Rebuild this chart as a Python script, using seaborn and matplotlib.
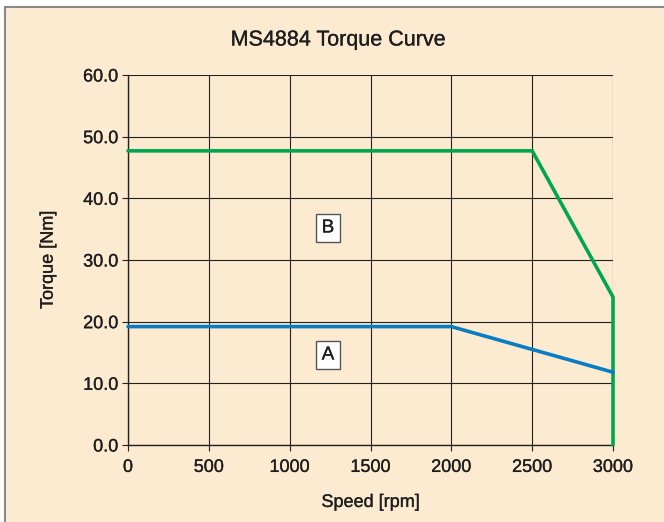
import pandas as pd
import matplotlib.pyplot as plt
import matplotlib.patheffects as pe
import seaborn as sns
from matplotlib.patches import Rectangle

# curve data
speed_b = [0, 2500, 3000, 3000]
torque_b = [47.7, 47.7, 24.0, 0.0]
speed_a = [0, 2000, 3000]
torque_a = [19.2, 19.2, 11.8]

x_ticks = [0, 500, 1000, 1500, 2000, 2500, 3000]
y_ticks = [0, 10, 20, 30, 40, 50, 60]

BEIGE = '#FDEBD1'
GREEN = '#00A651'
BLUE = '#0A7DC2'
TEXT = '#1e1e1e'

df = pd.concat([
    pd.DataFrame({'speed': speed_b, 'torque': torque_b, 'curve': 'B'}),
    pd.DataFrame({'speed': speed_a, 'torque': torque_a, 'curve': 'A'}),
], ignore_index=True)

sns.set_theme(style="white")
plt.rcParams['font.family'] = ['Liberation Sans', 'DejaVu Sans']

# slight stroke to mimic the medium weight of the original type
heavy = [pe.withStroke(linewidth=0.2, foreground=TEXT)]

fig = plt.figure(figsize=(6.64, 5.22), dpi=100, facecolor='white')
# beige panel with grey border
fig.patches.append(Rectangle((5 / 664, -0.01), 1.0, 1 - 7 / 522 + 0.01,
                             transform=fig.transFigure, facecolor=BEIGE,
                             edgecolor='#8a8a8a', linewidth=1.5, zorder=-5))

ax = fig.add_axes([128 / 664, 1 - 445 / 522, 485 / 664, 370 / 522])
ax.set_zorder(2)
ax.set_facecolor(BEIGE)

sns.lineplot(data=df, x='speed', y='torque', hue='curve', units='curve',
             estimator=None, sort=False, palette={'B': GREEN, 'A': BLUE},
             linewidth=2.6, legend=False, ax=ax, zorder=3)
for line in ax.lines:
    line.set_clip_on(False)
    line.set_solid_joinstyle('miter')

ax.set_xlim(0, 3000)
ax.set_ylim(0, 60)
ax.set_xticks(x_ticks)
ax.set_yticks(y_ticks)
ax.set_xticklabels([str(t) for t in x_ticks], fontsize=13, path_effects=heavy)
ax.set_yticklabels([f"{t:.1f}" for t in y_ticks], fontsize=13, path_effects=heavy)
ax.grid(True, color='#222222', linewidth=0.8)
ax.tick_params(axis='both', direction='out', length=4, width=0.8, color='#222222',
               bottom=True, left=True, labelcolor=TEXT)
ax.tick_params(axis='x', pad=6)
ax.tick_params(axis='y', pad=3)
for side in ['top', 'right']:
    ax.spines[side].set_visible(False)
for side in ['left', 'bottom']:
    ax.spines[side].set_color('#222222')
    ax.spines[side].set_linewidth(1.0)

ax.set_xlabel('Speed [rpm]', fontsize=13, color=TEXT, labelpad=13, path_effects=heavy)
ax.set_ylabel('Torque [Nm]', fontsize=13, color=TEXT, labelpad=19, path_effects=heavy)

fig.text(338 / 664, 1 - 40 / 522, 'MS4884 Torque Curve', ha='center', va='center',
         fontsize=15.5, color=TEXT, path_effects=heavy)

box = dict(boxstyle='square,pad=0.3', facecolor='white', edgecolor='#555555', linewidth=1)
ax.text(1237, 35.2, 'B', ha='center', va='center', fontsize=13.5, color=TEXT, bbox=box,
        zorder=4, path_effects=heavy)
ax.text(1237, 14.6, 'A', ha='center', va='center', fontsize=13.5, color=TEXT, bbox=box,
        zorder=4, path_effects=heavy)

fig.savefig('out.png', dpi=100, facecolor=fig.get_facecolor())
